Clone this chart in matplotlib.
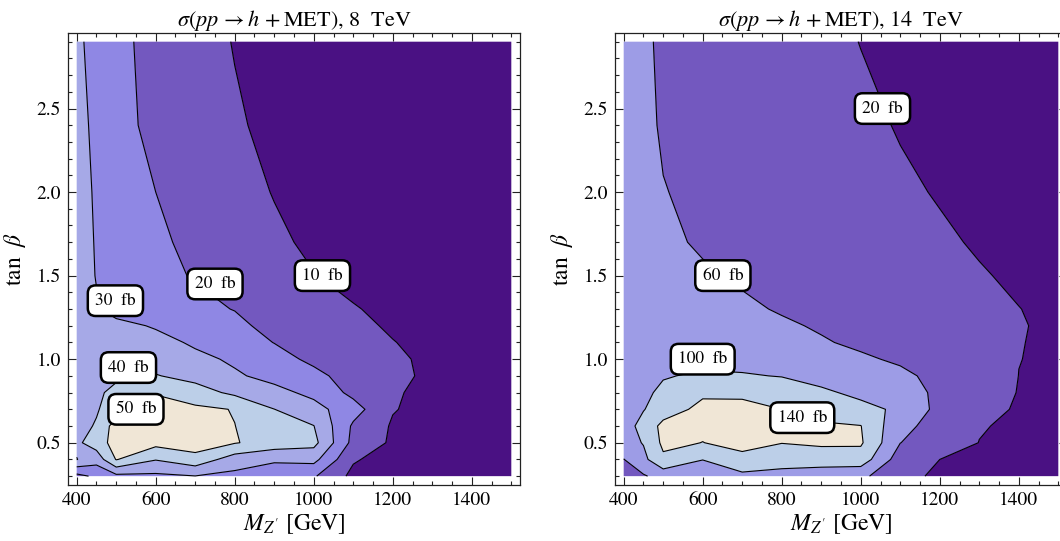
import numpy as np
import matplotlib.pyplot as plt
from matplotlib.ticker import MultipleLocator

plt.rcParams['font.family'] = ['STIXGeneral', 'DejaVu Serif']
plt.rcParams['mathtext.fontset'] = 'stix'

# grid of the scan
m_zp = [400, 450, 500, 600, 700, 800, 900, 1000, 1100, 1200, 1300, 1400, 1500]
tan_beta = [0.3, 0.4, 0.5, 0.6, 0.7, 0.8, 0.9, 1.0, 1.1, 1.2, 1.3, 1.5, 1.7, 2.0, 2.4, 2.9]

# sigma(pp -> h + MET) in fb, rows = tan_beta, cols = m_zp
xsec_8tev = [
    [17, 22, 27.5, 28, 29.8, 27.5, 26, 21, 7.5, 5.5, 5, 4.8, 4.6],
    [40.3, 34, 50.5, 40.5, 46.5, 35, 31, 33, 11, 5.8, 5.2, 5, 4.8],
    [38, 45, 54, 53, 55, 50.6, 46, 43, 17, 8.5, 6.8, 6.3, 5.8],
    [38, 40.5, 55, 54, 53, 50.1, 45, 40.2, 18.5, 9, 7, 6.5, 6],
    [36, 39.5, 43, 53, 52, 49.6, 40.1, 33.5, 24, 10.5, 7, 6.5, 6],
    [37, 39, 41.5, 49.5, 44, 38, 33, 27.5, 17.5, 11, 7.5, 6.8, 6.2],
    [38, 38.5, 39, 40.5, 37, 31.3, 27, 22.5, 16, 12.5, 8, 7, 6.4],
    [39, 38.5, 38, 36, 32.5, 28.5, 23.5, 18, 15, 11.3, 8.5, 7.5, 6.5],
    [38.5, 37.5, 36, 33.5, 28.5, 24.5, 19.8, 16.5, 13.5, 10.2, 8.2, 7, 6],
    [38, 36, 33, 29, 25, 21.5, 18, 14.5, 11.5, 9.2, 7.5, 6.4, 5.5],
    [37, 31, 26, 23.5, 21.5, 19.8, 16.5, 13, 10.4, 8.5, 7, 6, 5.2],
    [36, 29.5, 24, 21.5, 19.6, 15.5, 12.5, 10.2, 8.2, 6.8, 5.8, 5, 4.3],
    [35, 29.2, 25.5, 21.5, 18, 14, 11.2, 8.8, 7, 5.8, 5, 4.3, 3.7],
    [34, 28.8, 25, 20, 16, 12.5, 9.7, 7.5, 6, 5, 4.3, 3.7, 3.2],
    [33, 28, 22.5, 18, 14.5, 11, 8, 6.5, 5.3, 4.4, 3.8, 3.3, 2.9],
    [32, 26.5, 22, 17.5, 13.5, 9.6, 7.5, 6, 5, 4.2, 3.6, 3.1, 2.7],
]

xsec_14tev = [
    [38, 56, 75, 85, 90, 88, 85, 70, 25, 17, 13, 11, 10],
    [59, 90, 133, 100.5, 131, 115, 113, 122, 40, 20, 14, 12, 10.5],
    [84, 102, 148, 139.5, 150, 141, 148, 145, 60.5, 38, 19.5, 14, 12],
    [80, 115, 150, 147, 150, 150, 145, 141, 70, 46, 22, 15, 13],
    [80, 98, 122, 150, 146, 140, 125, 110, 94, 48, 36, 15, 14],
    [86, 94, 106, 134, 136, 122, 106, 92, 78, 52, 40, 18.5, 15],
    [88, 92, 98, 104, 103, 98.5, 88, 77, 66, 52, 38, 19.8, 16],
    [90, 91, 92, 92, 88, 80, 72, 64, 56, 44, 33, 20.3, 17],
    [88, 86.5, 85, 80, 75, 69, 62.5, 55, 46, 37, 29, 20.5, 17.5],
    [86, 83.5, 81, 75, 69, 64, 57, 49, 41, 33, 27, 21, 17],
    [84, 81, 78, 71, 65, 57.5, 50, 43, 36, 30, 25, 20.3, 16],
    [82, 78, 74, 65, 56, 49, 43, 37, 31, 26, 21.5, 17, 14.5],
    [80, 74, 68, 55, 51, 45, 39, 33, 27.5, 23, 18, 15, 13],
    [78, 69.5, 61, 54, 47, 40, 34, 28.5, 23.5, 18.5, 15, 13, 11.5],
    [76, 66.5, 57, 50, 43, 36.5, 30, 25, 18.5, 15, 12.5, 11, 10],
    [75, 65, 55, 48, 41, 34, 27, 19.5, 16, 13.5, 11.5, 10, 9],
]

levels_8tev = [10, 20, 30, 40, 50]
levels_14tev = [20, 60, 100, 140]

# contour label anchors (M_Z', tan beta)
label_pos_8tev = [(1022, 1.50), (750, 1.45), (498, 1.35), (531, 0.95), (550, 0.70)]
label_pos_14tev = [(1055, 2.50), (651, 1.50), (600, 1.00), (852, 0.65)]

colors_8tev = ['#4a1183', '#7358bf', '#8f87e4', '#a6a9e7', '#bccfe8', '#f0e6d6']
colors_14tev = ['#4a1183', '#7358bf', '#9d9ce6', '#bccfe8', '#f0e6d6']


def draw_panel(ax, z, levels, colors, label_pos, title):
    z = np.array(z)
    fill_levels = [0] + levels + [z.max() + 10]
    ax.contourf(m_zp, tan_beta, z, levels=fill_levels, colors=colors, antialiased=True)
    ax.contour(m_zp, tan_beta, z, levels=levels, colors='black', linewidths=0.8)

    for (m, tb), lev in zip(label_pos, levels):
        ax.text(m, tb, '%d  fb' % lev, ha='center', va='center', fontsize=12.5, zorder=5,
                bbox=dict(boxstyle='round,pad=0.42,rounding_size=0.45',
                          fc='white', ec='black', lw=1.8))

    ax.set_xlim(378, 1522)
    ax.set_ylim(0.247, 2.952)
    ax.xaxis.set_major_locator(MultipleLocator(200))
    ax.xaxis.set_minor_locator(MultipleLocator(50))
    ax.yaxis.set_major_locator(MultipleLocator(0.5))
    ax.yaxis.set_minor_locator(MultipleLocator(0.1))
    ax.tick_params(which='both', direction='in', top=True, right=True,
                   labelsize=14, color='#222222', width=0.8)
    ax.tick_params(which='major', length=6, pad=5)
    ax.tick_params(which='minor', length=3)
    for sp in ax.spines.values():
        sp.set_linewidth(0.9)
        sp.set_color('#222222')

    ax.set_title(title, fontsize=16, pad=4)
    ax.set_xlabel(r"$M_{Z'}$ [GeV]", fontsize=17, labelpad=2)
    ax.set_ylabel(r'tan $\;\beta$', fontsize=17, labelpad=6)


fig = plt.figure(figsize=(10.6, 5.41), dpi=100)
ax1 = fig.add_axes([68 / 1060, 56 / 541, 452 / 1060, 452 / 541])
ax2 = fig.add_axes([615 / 1060, 56 / 541, 452 / 1060, 452 / 541])

draw_panel(ax1, xsec_8tev, levels_8tev, colors_8tev, label_pos_8tev,
           r'$\sigma(pp\, \rightarrow h\, + \mathrm{MET})$, 8  TeV')
draw_panel(ax2, xsec_14tev, levels_14tev, colors_14tev, label_pos_14tev,
           r'$\sigma(pp\, \rightarrow h\, + \mathrm{MET})$, 14  TeV')

fig.savefig('out.png', dpi=100)
